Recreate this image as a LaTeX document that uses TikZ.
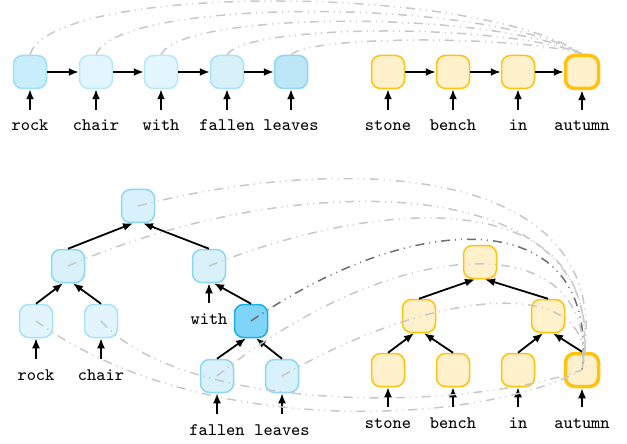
\documentclass[tikz,border=0pt]{standalone}
\usetikzlibrary{arrows.meta}
\definecolor{cellA}{HTML}{C9EEFB}\definecolor{lineA}{HTML}{9FDDF5}
\definecolor{cellB}{HTML}{E4F6FD}\definecolor{lineB}{HTML}{B8E7FA}
\definecolor{cellC}{HTML}{D7F1FB}\definecolor{lineC}{HTML}{A9E1F7}
\definecolor{cellD}{HTML}{BDE7F7}\definecolor{lineD}{HTML}{8DD5F2}
\definecolor{cellE}{HTML}{D8F1FB}\definecolor{lineE}{HTML}{8ED7F3}
\definecolor{cellF}{HTML}{E2F5FC}\definecolor{lineF}{HTML}{A8E2F7}
\definecolor{cellDark}{HTML}{7FD5F7}\definecolor{lineDark}{HTML}{19B0E6}
\definecolor{cellO}{HTML}{FFF1CC}\definecolor{lineO}{HTML}{FFC20E}
\definecolor{linkgray}{HTML}{C8C8C8}\definecolor{linkdark}{HTML}{6E6E6E}

\begin{document}
\begin{tikzpicture}
  [
  x=0.5pt, y=-0.5pt,
  font=\ttfamily\fontsize{8.8}{10}\selectfont, line width=0.9pt, >={Latex[length=5pt,width=4pt]},
  cell/.style={rectangle, rounded corners=4.5pt, minimum size=16.5pt, inner sep=0pt, line width=0.75pt},
  bluecell/.style={cell, draw=lineE, fill=cellE},
  orangecell/.style={cell, draw=lineO, fill=cellO},
  targetcell/.style={orangecell, line width=1.75pt},
  word/.style={anchor=base, inner xsep=0pt, inner ysep=4pt, text height=6pt, text depth=2pt},
  link/.style={draw=linkgray, line width=0.75pt, dash pattern=on 4.5pt off 2.5pt on 0.5pt off 2.5pt on 0.5pt off 2.5pt},
  ]
  \useasboundingbox (0,0) rectangle (627,444);

  % sequence, top row
  \node[cell, draw=lineA, fill=cellA] (t1) at (30,72) {};
  \node[cell, draw=lineB, fill=cellB] (t2) at (96,72) {};
  \node[cell, draw=lineB, fill=cellB] (t3) at (161,72) {};
  \node[cell, draw=lineC, fill=cellC] (t4) at (227,72) {};
  \node[cell, draw=lineD, fill=cellD] (t5) at (291,72) {};
  \node[orangecell] (s1) at (388,72) {};
  \node[orangecell] (s2) at (453,72) {};
  \node[orangecell] (s3) at (518,72) {};
  \node[targetcell] (s4) at (582,72) {};

  \foreach \n/\x/\w in {t1/30/rock,t2/96/chair,t3/161/with,t4/227/fallen,t5/291/leaves,
                         s1/388/stone,s2/453/bench,s3/518/in,s4/582/autumn} {
    \node[word] (w\n) at (\x,131) {\w};
    \draw[->] (w\n.north) -- (\n.south);
  }
  \foreach \a/\b in {t1/t2,t2/t3,t3/t4,t4/t5,s1/s2,s2/s3,s3/s4}
    \draw[->] (\a) -- (\b);

  \draw[link] (t1.north) .. controls +(20,-71) and +(-110,-71) .. (s4.north);
  \draw[link] (t2.north) .. controls +(20,-57) and +(-100,-57) .. (s4.north);
  \draw[link] (t3.north) .. controls +(20,-44) and +(-90,-44) .. (s4.north);
  \draw[link] (t4.north) .. controls +(20,-31) and +(-80,-31) .. (s4.north);
  \draw[link] (t5.north) .. controls +(20,-19) and +(-70,-19) .. (s4.north);

  % trees, bottom row
  \node[bluecell] (lroot) at (138,206) {};
  \node[bluecell] (ll) at (68,266) {};
  \node[bluecell] (lr) at (209,266) {};
  \node[cell, draw=lineF, fill=cellF] (lrock) at (36,321) {};
  \node[cell, draw=lineF, fill=cellF] (lchair) at (101,321) {};
  \node[cell, draw=lineDark, fill=cellDark] (lmid) at (251,321) {};
  \node[bluecell] (lfallen) at (217,376) {};
  \node[bluecell] (lleaves) at (282,376) {};

  \node[orangecell] (rroot) at (480,262) {};
  \node[orangecell] (rl) at (419,316) {};
  \node[orangecell] (rr) at (548,316) {};
  \node[orangecell] (rstone) at (388,370) {};
  \node[orangecell] (rbench) at (453,370) {};
  \node[orangecell] (rin) at (518,370) {};
  \node[targetcell] (rautumn) at (582,370) {};

  \foreach \n/\x/\y/\w in {lrock/36/380/rock,lchair/101/380/chair,lr/209/324/with,
                            lfallen/217/435/fallen,lleaves/282/435/leaves,
                            rstone/388/428/stone,rbench/453/428/bench,rin/518/428/in,rautumn/582/428/autumn} {
    \node[word] (w\n) at (\x,\y) {\w};
    \draw[->] (w\n.north) -- (\n.south);
  }

  \foreach \a/\b/\c in {ll/lr/lroot,lrock/lchair/ll,lfallen/lleaves/lmid,
                         rl/rr/rroot,rstone/rbench/rl,rin/rautumn/rr} {
    \draw[->] (\a.north) -- ([xshift=-2.5pt]\c.south);
    \draw[->] (\b.north) -- ([xshift=2.5pt]\c.south);
  }
  \draw[->] (lmid.north) -- ([xshift=2.5pt]lr.south);

  \draw[link] (lroot.center) .. controls +(192,-50) and +(43,-215) .. (rautumn.center);
  \draw[link] (ll.center) .. controls +(232,-101) and +(38,-200) .. (rautumn.center);
  \draw[link] (lr.center) .. controls +(191,-76) and +(28,-180) .. (rautumn.center);
  \draw[link, draw=linkdark] (lmid.center) .. controls +(169,-116) and +(18,-165) .. (rautumn.center);
  \draw[link] (lfallen.center) .. controls +(183,-146) and +(18,-145) .. (rautumn.center);
  \draw[link] (lleaves.center) .. controls +(168,-96) and +(18,-90) .. (rautumn.center);
  \draw[link] (lchair.center) .. controls +(79,89) and +(-132,45) .. (rautumn.center);
  \draw[link] (lrock.center) .. controls +(164,119) and +(-102,55) .. (rautumn.center);

\end{tikzpicture}
\end{document}
